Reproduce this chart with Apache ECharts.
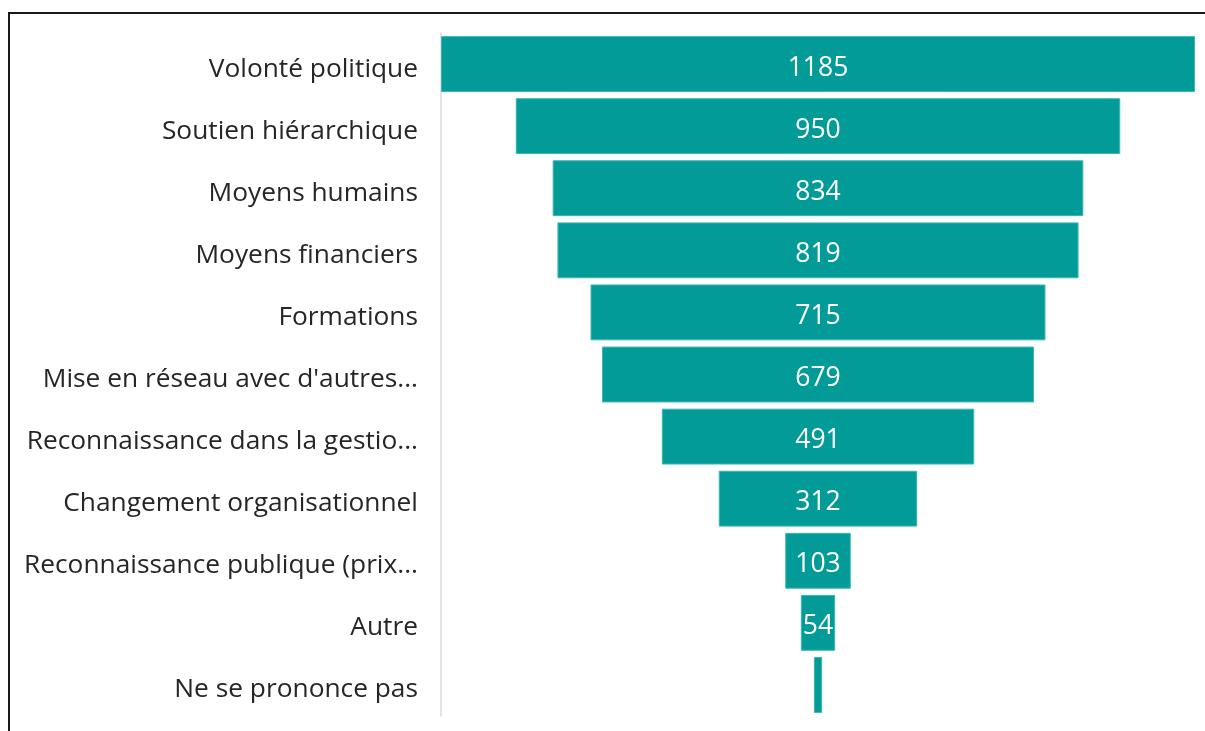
<html><head><meta charset='utf-8'>
<script src='https://cdn.jsdelivr.net/npm/echarts@6/dist/echarts.min.js'></script>
<style>
  body { margin: 0; background: #fff; }
  #frame { position: absolute; left: 8px; top: 12px; width: 1197px; height: 719px;
           border-left: 2px solid #1a1a1a; border-top: 2px solid #1a1a1a; box-sizing: border-box; }
  #main { position: absolute; left: 0; top: 0; width: 1205px; height: 731px; }
</style>
</head><body>
<div id='frame'></div>
<div id='main'></div>
<script>
// categories, top to bottom
var categories = ['Volonté politique', 'Soutien hiérarchique', 'Moyens humains', 'Moyens financiers',
  'Formations', "Mise en réseau avec d'autres...", 'Reconnaissance dans la gestio...',
  'Changement organisationnel', 'Reconnaissance publique (prix...', 'Autre', 'Ne se prononce pas']
var values = [1185, 950, 834, 819, 715, 679, 491, 312, 103, 54, 13]

var maxV = Math.max.apply(null, values)
// invisible offset so every bar sits centred like a funnel
var offsets = values.map(function (v) { return (maxV - v) / 2 })

var chart = echarts.init(document.getElementById('main'))
chart.setOption({
  animation: false,
  grid: { left: 441, right: 10, top: 33, bottom: 15, containLabel: false },
  xAxis: { type: 'value', min: 0, max: maxV, show: false },
  yAxis: {
    type: 'category',
    inverse: true,
    data: categories,
    axisTick: { show: false },
    axisLine: { show: true, lineStyle: { color: '#d9d9d9', width: 1.5 } },
    axisLabel: {
      margin: 23,
      formatter: function (s) { return '{t|' + s + '}' },
      rich: { t: { color: '#262626', fontSize: 26.3, fontFamily: 'Open Sans', padding: [10, 0, 0, 0] } }
    }
  },
  series: [
    {
      type: 'bar', stack: 'f', data: offsets, barCategoryGap: '10%',
      itemStyle: { color: 'transparent' }, silent: true
    },
    {
      type: 'bar', stack: 'f', barCategoryGap: '10%',
      data: values.map(function (v) {
        return { value: v, label: { show: v > 30 } }
      }),
      itemStyle: { color: '#039b98', borderColor: '#3db7b3', borderWidth: 1 },
      label: { show: true, position: 'inside', color: '#fff', fontSize: 26.5, fontFamily: 'Open Sans',
               offset: [0, 4] }
    }
  ]
})
</script>
</body></html>
